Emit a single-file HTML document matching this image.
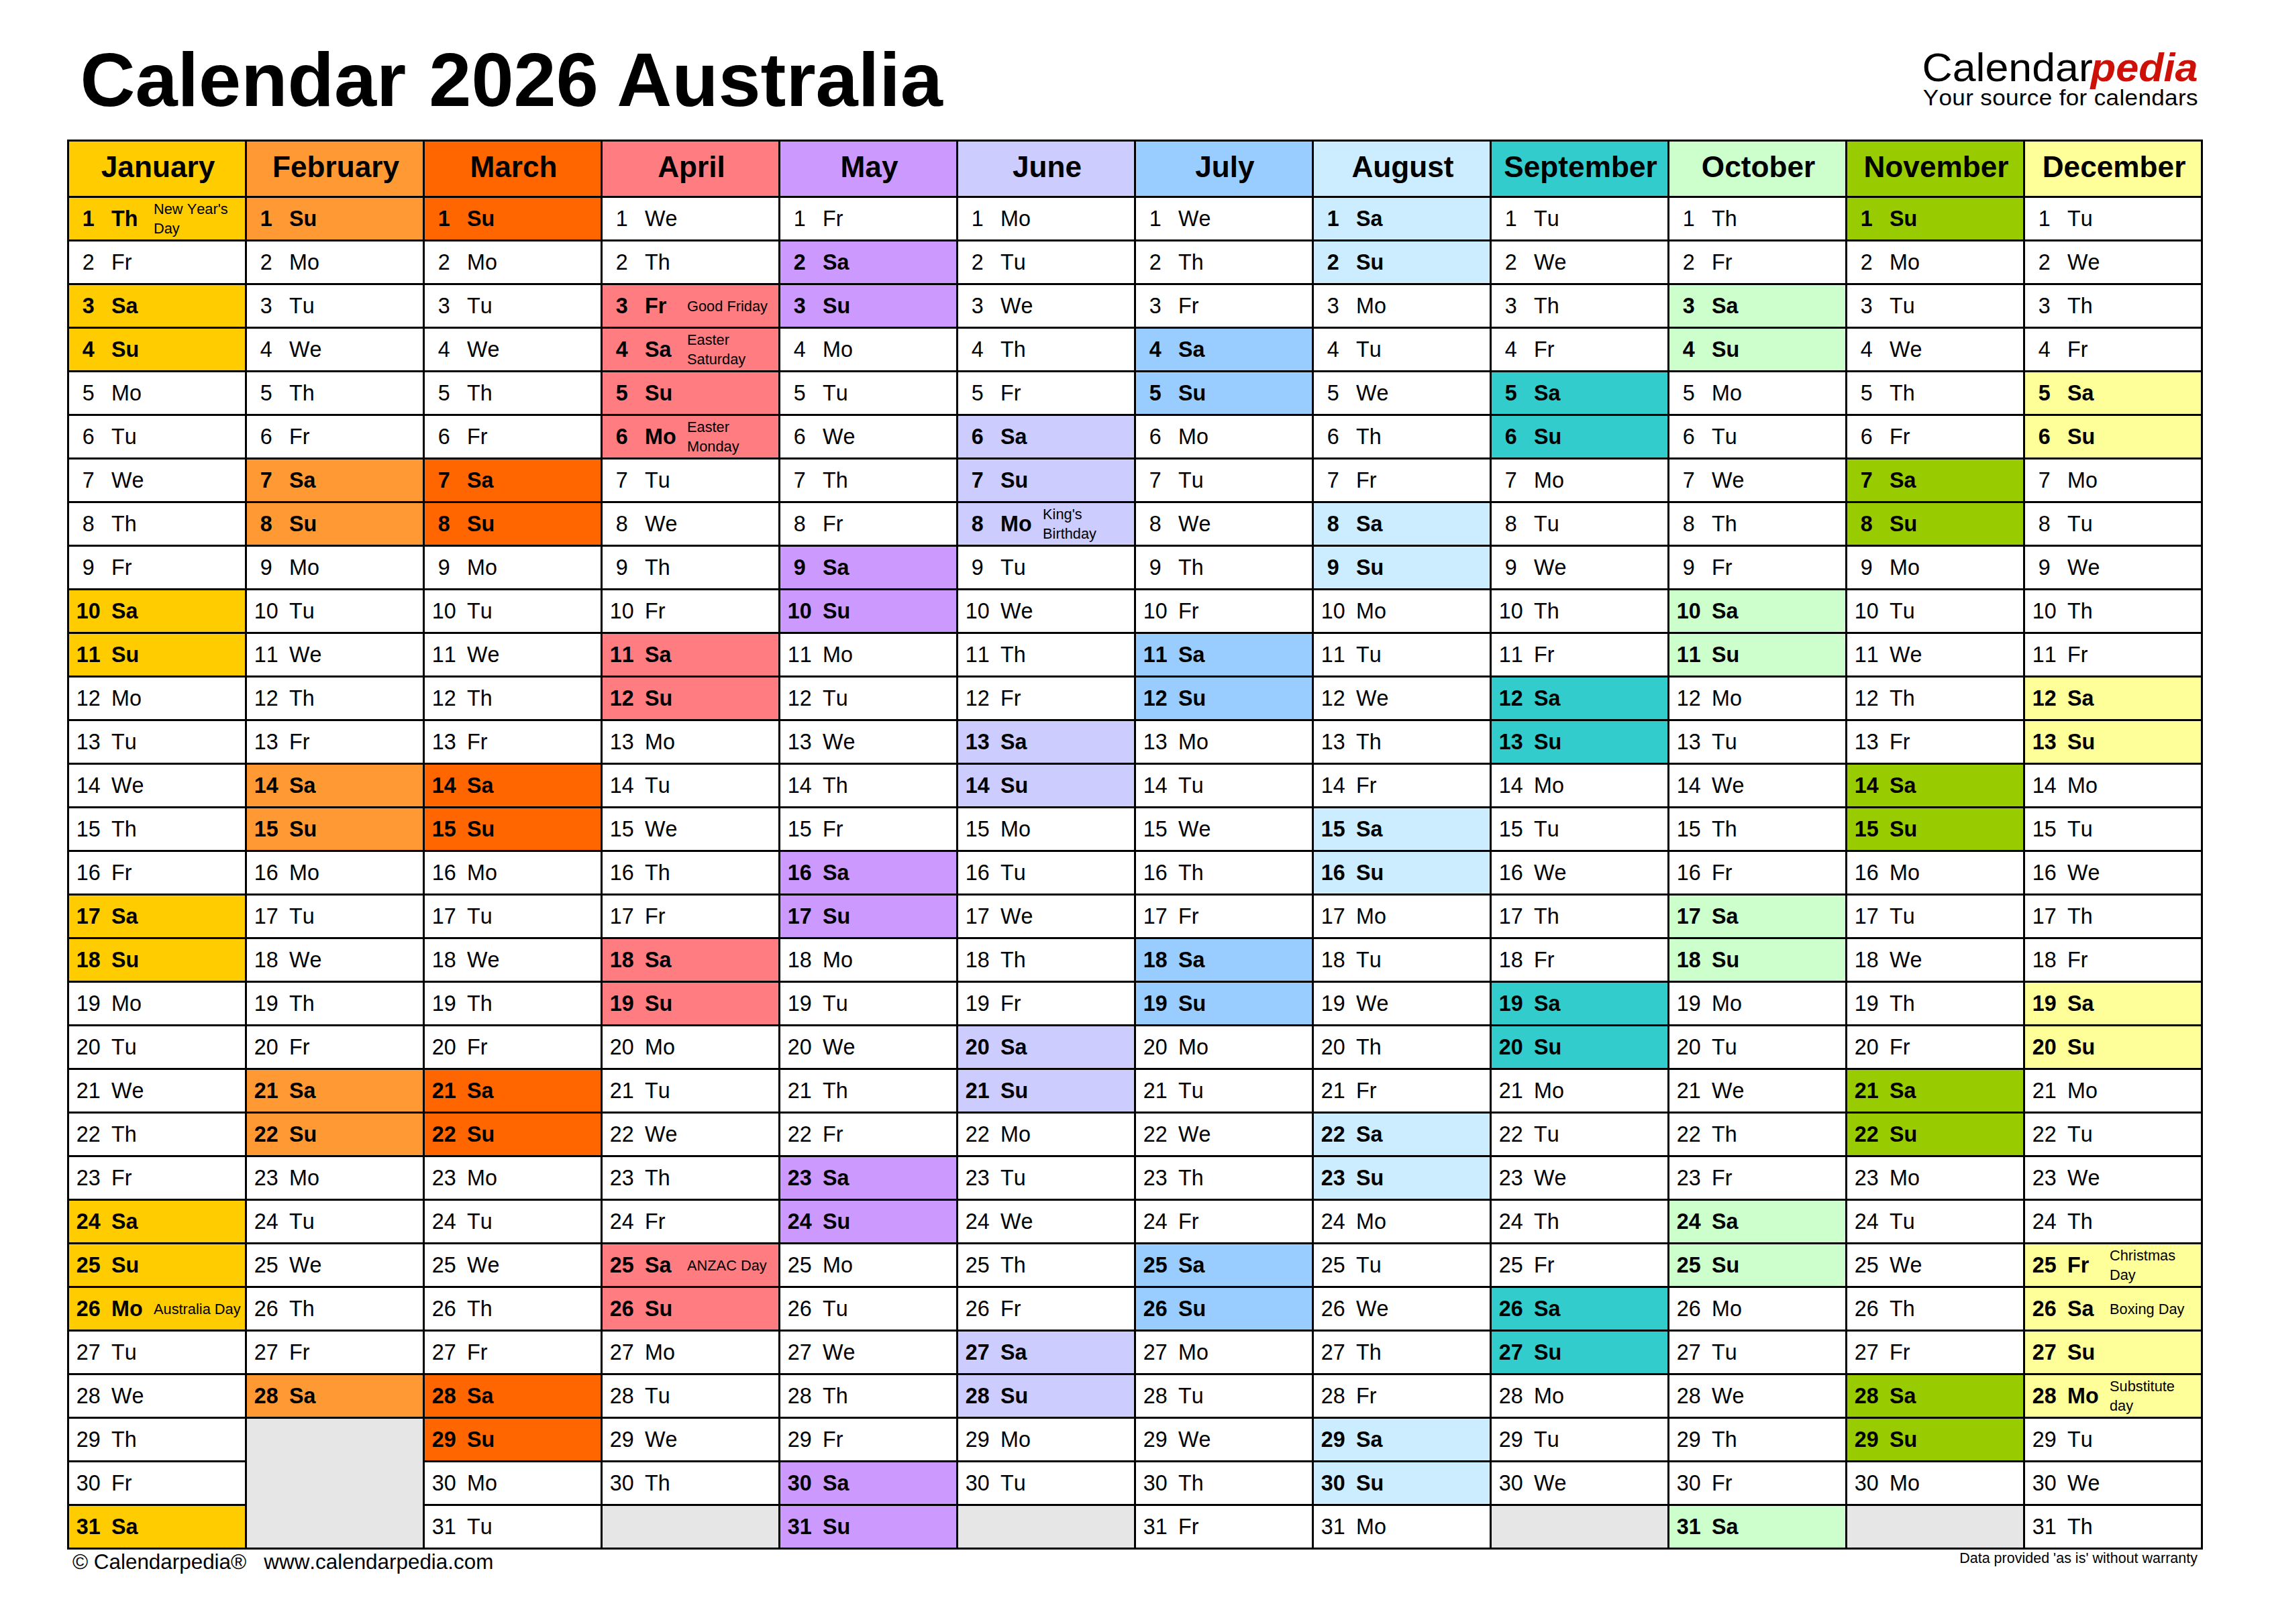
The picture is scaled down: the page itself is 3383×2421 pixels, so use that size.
<!DOCTYPE html>
<html lang="en">
<head>
<meta charset="utf-8">
<title>Calendar 2026 Australia</title>
<style>
html,body{margin:0;padding:0;background:#fff}
body{width:3383px;height:2421px;position:relative;overflow:hidden;font-family:"Liberation Sans",Arial,Helvetica,sans-serif;color:#000;font-kerning:none;-webkit-font-smoothing:antialiased}
div,span{position:absolute;white-space:nowrap;line-height:1;margin:0;padding:0}
b.g{font-weight:inherit}
#grid{left:100px;top:208px;width:3183px;height:2102px;background:#000}
.h{width:262px;height:81px;top:3px;font-weight:bold;font-size:44.2px;text-align:center}
.h span{left:1.5px;width:100%;top:15.785px}
.c{width:262px;height:62px;background:#fff;font-size:32.3px}
.b{font-weight:bold}
.n{left:-11.2px;width:80px;text-align:center;top:14.758px}
.w{left:63px;top:14.758px}
.t{left:126px;font-size:21.8px;font-weight:normal;line-height:28.9px}
.e{background:#E6E6E6}

.m1{background:#FFCC00}
.m2{background:#FF9933}
.m3{background:#FF6600}
.m4{background:#FF7C80}
.m5{background:#CC99FF}
.m6{background:#CCCCFF}
.m7{background:#99CCFF}
.m8{background:#CCECFF}
.m9{background:#33CCCC}
.m10{background:#CCFFCC}
.m11{background:#99CC00}
.m12{background:#FFFF99}
#title{left:119.5px;top:61.822px;font-size:113.5px;font-weight:bold}
#logo,#logo2{top:70.549px;font-size:59.6px;transform-origin:100% 0}
#logo{right:264.6px;transform:scaleX(1.052)}
#logo2{right:107.5px;transform:scaleX(1.027);font-weight:bold;font-style:italic;color:#CD1109}
#tag{right:107.2px;top:129.027px;font-size:33.4px;letter-spacing:0.3px;transform:scaleX(1.052);transform-origin:100% 0}
#fl{left:108px;top:2312.62px;font-size:31.4px;white-space:pre}
#fr{right:108px;top:2313.2px;font-size:21.5px}
</style>
</head>
<body>
<div id="title">Calendar <b class="g" style="margin-left:2.6px">2026</b> <b class="g" style="margin-left:-4.2px">Australia</b></div>
<div id="logo">Calendar</div><div id="logo2">pedia</div>
<div id="tag">Your source for calendars</div>
<div id="grid">
<div class="h m1" style="left:3px"><span>January</span></div>
<div class="c b m1" style="left:3px;top:87px"><span class="n">1</span><span class="w">Th</span><span class="t" style="top:2.696px">New Year's<br>Day</span></div>
<div class="c" style="left:3px;top:152px"><span class="n">2</span><span class="w">Fr</span></div>
<div class="c b m1" style="left:3px;top:217px"><span class="n">3</span><span class="w">Sa</span></div>
<div class="c b m1" style="left:3px;top:282px"><span class="n">4</span><span class="w">Su</span></div>
<div class="c" style="left:3px;top:347px"><span class="n">5</span><span class="w">Mo</span></div>
<div class="c" style="left:3px;top:412px"><span class="n">6</span><span class="w">Tu</span></div>
<div class="c" style="left:3px;top:477px"><span class="n">7</span><span class="w">We</span></div>
<div class="c" style="left:3px;top:542px"><span class="n">8</span><span class="w">Th</span></div>
<div class="c" style="left:3px;top:607px"><span class="n">9</span><span class="w">Fr</span></div>
<div class="c b m1" style="left:3px;top:672px"><span class="n">10</span><span class="w">Sa</span></div>
<div class="c b m1" style="left:3px;top:737px"><span class="n">11</span><span class="w">Su</span></div>
<div class="c" style="left:3px;top:802px"><span class="n">12</span><span class="w">Mo</span></div>
<div class="c" style="left:3px;top:867px"><span class="n">13</span><span class="w">Tu</span></div>
<div class="c" style="left:3px;top:932px"><span class="n">14</span><span class="w">We</span></div>
<div class="c" style="left:3px;top:997px"><span class="n">15</span><span class="w">Th</span></div>
<div class="c" style="left:3px;top:1062px"><span class="n">16</span><span class="w">Fr</span></div>
<div class="c b m1" style="left:3px;top:1127px"><span class="n">17</span><span class="w">Sa</span></div>
<div class="c b m1" style="left:3px;top:1192px"><span class="n">18</span><span class="w">Su</span></div>
<div class="c" style="left:3px;top:1257px"><span class="n">19</span><span class="w">Mo</span></div>
<div class="c" style="left:3px;top:1322px"><span class="n">20</span><span class="w">Tu</span></div>
<div class="c" style="left:3px;top:1387px"><span class="n">21</span><span class="w">We</span></div>
<div class="c" style="left:3px;top:1452px"><span class="n">22</span><span class="w">Th</span></div>
<div class="c" style="left:3px;top:1517px"><span class="n">23</span><span class="w">Fr</span></div>
<div class="c b m1" style="left:3px;top:1582px"><span class="n">24</span><span class="w">Sa</span></div>
<div class="c b m1" style="left:3px;top:1647px"><span class="n">25</span><span class="w">Su</span></div>
<div class="c b m1" style="left:3px;top:1712px"><span class="n">26</span><span class="w">Mo</span><span class="t" style="top:17.696px">Australia Day</span></div>
<div class="c" style="left:3px;top:1777px"><span class="n">27</span><span class="w">Tu</span></div>
<div class="c" style="left:3px;top:1842px"><span class="n">28</span><span class="w">We</span></div>
<div class="c" style="left:3px;top:1907px"><span class="n">29</span><span class="w">Th</span></div>
<div class="c" style="left:3px;top:1972px"><span class="n">30</span><span class="w">Fr</span></div>
<div class="c b m1" style="left:3px;top:2037px"><span class="n">31</span><span class="w">Sa</span></div>
<div class="h m2" style="left:268px"><span>February</span></div>
<div class="c b m2" style="left:268px;top:87px"><span class="n">1</span><span class="w">Su</span></div>
<div class="c" style="left:268px;top:152px"><span class="n">2</span><span class="w">Mo</span></div>
<div class="c" style="left:268px;top:217px"><span class="n">3</span><span class="w">Tu</span></div>
<div class="c" style="left:268px;top:282px"><span class="n">4</span><span class="w">We</span></div>
<div class="c" style="left:268px;top:347px"><span class="n">5</span><span class="w">Th</span></div>
<div class="c" style="left:268px;top:412px"><span class="n">6</span><span class="w">Fr</span></div>
<div class="c b m2" style="left:268px;top:477px"><span class="n">7</span><span class="w">Sa</span></div>
<div class="c b m2" style="left:268px;top:542px"><span class="n">8</span><span class="w">Su</span></div>
<div class="c" style="left:268px;top:607px"><span class="n">9</span><span class="w">Mo</span></div>
<div class="c" style="left:268px;top:672px"><span class="n">10</span><span class="w">Tu</span></div>
<div class="c" style="left:268px;top:737px"><span class="n">11</span><span class="w">We</span></div>
<div class="c" style="left:268px;top:802px"><span class="n">12</span><span class="w">Th</span></div>
<div class="c" style="left:268px;top:867px"><span class="n">13</span><span class="w">Fr</span></div>
<div class="c b m2" style="left:268px;top:932px"><span class="n">14</span><span class="w">Sa</span></div>
<div class="c b m2" style="left:268px;top:997px"><span class="n">15</span><span class="w">Su</span></div>
<div class="c" style="left:268px;top:1062px"><span class="n">16</span><span class="w">Mo</span></div>
<div class="c" style="left:268px;top:1127px"><span class="n">17</span><span class="w">Tu</span></div>
<div class="c" style="left:268px;top:1192px"><span class="n">18</span><span class="w">We</span></div>
<div class="c" style="left:268px;top:1257px"><span class="n">19</span><span class="w">Th</span></div>
<div class="c" style="left:268px;top:1322px"><span class="n">20</span><span class="w">Fr</span></div>
<div class="c b m2" style="left:268px;top:1387px"><span class="n">21</span><span class="w">Sa</span></div>
<div class="c b m2" style="left:268px;top:1452px"><span class="n">22</span><span class="w">Su</span></div>
<div class="c" style="left:268px;top:1517px"><span class="n">23</span><span class="w">Mo</span></div>
<div class="c" style="left:268px;top:1582px"><span class="n">24</span><span class="w">Tu</span></div>
<div class="c" style="left:268px;top:1647px"><span class="n">25</span><span class="w">We</span></div>
<div class="c" style="left:268px;top:1712px"><span class="n">26</span><span class="w">Th</span></div>
<div class="c" style="left:268px;top:1777px"><span class="n">27</span><span class="w">Fr</span></div>
<div class="c b m2" style="left:268px;top:1842px"><span class="n">28</span><span class="w">Sa</span></div>
<div class="c e" style="left:268px;top:1907px;height:192px"></div>
<div class="h m3" style="left:533px"><span>March</span></div>
<div class="c b m3" style="left:533px;top:87px"><span class="n">1</span><span class="w">Su</span></div>
<div class="c" style="left:533px;top:152px"><span class="n">2</span><span class="w">Mo</span></div>
<div class="c" style="left:533px;top:217px"><span class="n">3</span><span class="w">Tu</span></div>
<div class="c" style="left:533px;top:282px"><span class="n">4</span><span class="w">We</span></div>
<div class="c" style="left:533px;top:347px"><span class="n">5</span><span class="w">Th</span></div>
<div class="c" style="left:533px;top:412px"><span class="n">6</span><span class="w">Fr</span></div>
<div class="c b m3" style="left:533px;top:477px"><span class="n">7</span><span class="w">Sa</span></div>
<div class="c b m3" style="left:533px;top:542px"><span class="n">8</span><span class="w">Su</span></div>
<div class="c" style="left:533px;top:607px"><span class="n">9</span><span class="w">Mo</span></div>
<div class="c" style="left:533px;top:672px"><span class="n">10</span><span class="w">Tu</span></div>
<div class="c" style="left:533px;top:737px"><span class="n">11</span><span class="w">We</span></div>
<div class="c" style="left:533px;top:802px"><span class="n">12</span><span class="w">Th</span></div>
<div class="c" style="left:533px;top:867px"><span class="n">13</span><span class="w">Fr</span></div>
<div class="c b m3" style="left:533px;top:932px"><span class="n">14</span><span class="w">Sa</span></div>
<div class="c b m3" style="left:533px;top:997px"><span class="n">15</span><span class="w">Su</span></div>
<div class="c" style="left:533px;top:1062px"><span class="n">16</span><span class="w">Mo</span></div>
<div class="c" style="left:533px;top:1127px"><span class="n">17</span><span class="w">Tu</span></div>
<div class="c" style="left:533px;top:1192px"><span class="n">18</span><span class="w">We</span></div>
<div class="c" style="left:533px;top:1257px"><span class="n">19</span><span class="w">Th</span></div>
<div class="c" style="left:533px;top:1322px"><span class="n">20</span><span class="w">Fr</span></div>
<div class="c b m3" style="left:533px;top:1387px"><span class="n">21</span><span class="w">Sa</span></div>
<div class="c b m3" style="left:533px;top:1452px"><span class="n">22</span><span class="w">Su</span></div>
<div class="c" style="left:533px;top:1517px"><span class="n">23</span><span class="w">Mo</span></div>
<div class="c" style="left:533px;top:1582px"><span class="n">24</span><span class="w">Tu</span></div>
<div class="c" style="left:533px;top:1647px"><span class="n">25</span><span class="w">We</span></div>
<div class="c" style="left:533px;top:1712px"><span class="n">26</span><span class="w">Th</span></div>
<div class="c" style="left:533px;top:1777px"><span class="n">27</span><span class="w">Fr</span></div>
<div class="c b m3" style="left:533px;top:1842px"><span class="n">28</span><span class="w">Sa</span></div>
<div class="c b m3" style="left:533px;top:1907px"><span class="n">29</span><span class="w">Su</span></div>
<div class="c" style="left:533px;top:1972px"><span class="n">30</span><span class="w">Mo</span></div>
<div class="c" style="left:533px;top:2037px"><span class="n">31</span><span class="w">Tu</span></div>
<div class="h m4" style="left:798px"><span>April</span></div>
<div class="c" style="left:798px;top:87px"><span class="n">1</span><span class="w">We</span></div>
<div class="c" style="left:798px;top:152px"><span class="n">2</span><span class="w">Th</span></div>
<div class="c b m4" style="left:798px;top:217px"><span class="n">3</span><span class="w">Fr</span><span class="t" style="top:17.696px">Good Friday</span></div>
<div class="c b m4" style="left:798px;top:282px"><span class="n">4</span><span class="w">Sa</span><span class="t" style="top:2.696px">Easter<br>Saturday</span></div>
<div class="c b m4" style="left:798px;top:347px"><span class="n">5</span><span class="w">Su</span></div>
<div class="c b m4" style="left:798px;top:412px"><span class="n">6</span><span class="w">Mo</span><span class="t" style="top:2.696px">Easter<br>Monday</span></div>
<div class="c" style="left:798px;top:477px"><span class="n">7</span><span class="w">Tu</span></div>
<div class="c" style="left:798px;top:542px"><span class="n">8</span><span class="w">We</span></div>
<div class="c" style="left:798px;top:607px"><span class="n">9</span><span class="w">Th</span></div>
<div class="c" style="left:798px;top:672px"><span class="n">10</span><span class="w">Fr</span></div>
<div class="c b m4" style="left:798px;top:737px"><span class="n">11</span><span class="w">Sa</span></div>
<div class="c b m4" style="left:798px;top:802px"><span class="n">12</span><span class="w">Su</span></div>
<div class="c" style="left:798px;top:867px"><span class="n">13</span><span class="w">Mo</span></div>
<div class="c" style="left:798px;top:932px"><span class="n">14</span><span class="w">Tu</span></div>
<div class="c" style="left:798px;top:997px"><span class="n">15</span><span class="w">We</span></div>
<div class="c" style="left:798px;top:1062px"><span class="n">16</span><span class="w">Th</span></div>
<div class="c" style="left:798px;top:1127px"><span class="n">17</span><span class="w">Fr</span></div>
<div class="c b m4" style="left:798px;top:1192px"><span class="n">18</span><span class="w">Sa</span></div>
<div class="c b m4" style="left:798px;top:1257px"><span class="n">19</span><span class="w">Su</span></div>
<div class="c" style="left:798px;top:1322px"><span class="n">20</span><span class="w">Mo</span></div>
<div class="c" style="left:798px;top:1387px"><span class="n">21</span><span class="w">Tu</span></div>
<div class="c" style="left:798px;top:1452px"><span class="n">22</span><span class="w">We</span></div>
<div class="c" style="left:798px;top:1517px"><span class="n">23</span><span class="w">Th</span></div>
<div class="c" style="left:798px;top:1582px"><span class="n">24</span><span class="w">Fr</span></div>
<div class="c b m4" style="left:798px;top:1647px"><span class="n">25</span><span class="w">Sa</span><span class="t" style="top:17.696px">ANZAC Day</span></div>
<div class="c b m4" style="left:798px;top:1712px"><span class="n">26</span><span class="w">Su</span></div>
<div class="c" style="left:798px;top:1777px"><span class="n">27</span><span class="w">Mo</span></div>
<div class="c" style="left:798px;top:1842px"><span class="n">28</span><span class="w">Tu</span></div>
<div class="c" style="left:798px;top:1907px"><span class="n">29</span><span class="w">We</span></div>
<div class="c" style="left:798px;top:1972px"><span class="n">30</span><span class="w">Th</span></div>
<div class="c e" style="left:798px;top:2037px;height:62px"></div>
<div class="h m5" style="left:1063px"><span>May</span></div>
<div class="c" style="left:1063px;top:87px"><span class="n">1</span><span class="w">Fr</span></div>
<div class="c b m5" style="left:1063px;top:152px"><span class="n">2</span><span class="w">Sa</span></div>
<div class="c b m5" style="left:1063px;top:217px"><span class="n">3</span><span class="w">Su</span></div>
<div class="c" style="left:1063px;top:282px"><span class="n">4</span><span class="w">Mo</span></div>
<div class="c" style="left:1063px;top:347px"><span class="n">5</span><span class="w">Tu</span></div>
<div class="c" style="left:1063px;top:412px"><span class="n">6</span><span class="w">We</span></div>
<div class="c" style="left:1063px;top:477px"><span class="n">7</span><span class="w">Th</span></div>
<div class="c" style="left:1063px;top:542px"><span class="n">8</span><span class="w">Fr</span></div>
<div class="c b m5" style="left:1063px;top:607px"><span class="n">9</span><span class="w">Sa</span></div>
<div class="c b m5" style="left:1063px;top:672px"><span class="n">10</span><span class="w">Su</span></div>
<div class="c" style="left:1063px;top:737px"><span class="n">11</span><span class="w">Mo</span></div>
<div class="c" style="left:1063px;top:802px"><span class="n">12</span><span class="w">Tu</span></div>
<div class="c" style="left:1063px;top:867px"><span class="n">13</span><span class="w">We</span></div>
<div class="c" style="left:1063px;top:932px"><span class="n">14</span><span class="w">Th</span></div>
<div class="c" style="left:1063px;top:997px"><span class="n">15</span><span class="w">Fr</span></div>
<div class="c b m5" style="left:1063px;top:1062px"><span class="n">16</span><span class="w">Sa</span></div>
<div class="c b m5" style="left:1063px;top:1127px"><span class="n">17</span><span class="w">Su</span></div>
<div class="c" style="left:1063px;top:1192px"><span class="n">18</span><span class="w">Mo</span></div>
<div class="c" style="left:1063px;top:1257px"><span class="n">19</span><span class="w">Tu</span></div>
<div class="c" style="left:1063px;top:1322px"><span class="n">20</span><span class="w">We</span></div>
<div class="c" style="left:1063px;top:1387px"><span class="n">21</span><span class="w">Th</span></div>
<div class="c" style="left:1063px;top:1452px"><span class="n">22</span><span class="w">Fr</span></div>
<div class="c b m5" style="left:1063px;top:1517px"><span class="n">23</span><span class="w">Sa</span></div>
<div class="c b m5" style="left:1063px;top:1582px"><span class="n">24</span><span class="w">Su</span></div>
<div class="c" style="left:1063px;top:1647px"><span class="n">25</span><span class="w">Mo</span></div>
<div class="c" style="left:1063px;top:1712px"><span class="n">26</span><span class="w">Tu</span></div>
<div class="c" style="left:1063px;top:1777px"><span class="n">27</span><span class="w">We</span></div>
<div class="c" style="left:1063px;top:1842px"><span class="n">28</span><span class="w">Th</span></div>
<div class="c" style="left:1063px;top:1907px"><span class="n">29</span><span class="w">Fr</span></div>
<div class="c b m5" style="left:1063px;top:1972px"><span class="n">30</span><span class="w">Sa</span></div>
<div class="c b m5" style="left:1063px;top:2037px"><span class="n">31</span><span class="w">Su</span></div>
<div class="h m6" style="left:1328px"><span>June</span></div>
<div class="c" style="left:1328px;top:87px"><span class="n">1</span><span class="w">Mo</span></div>
<div class="c" style="left:1328px;top:152px"><span class="n">2</span><span class="w">Tu</span></div>
<div class="c" style="left:1328px;top:217px"><span class="n">3</span><span class="w">We</span></div>
<div class="c" style="left:1328px;top:282px"><span class="n">4</span><span class="w">Th</span></div>
<div class="c" style="left:1328px;top:347px"><span class="n">5</span><span class="w">Fr</span></div>
<div class="c b m6" style="left:1328px;top:412px"><span class="n">6</span><span class="w">Sa</span></div>
<div class="c b m6" style="left:1328px;top:477px"><span class="n">7</span><span class="w">Su</span></div>
<div class="c b m6" style="left:1328px;top:542px"><span class="n">8</span><span class="w">Mo</span><span class="t" style="top:2.696px">King's<br>Birthday</span></div>
<div class="c" style="left:1328px;top:607px"><span class="n">9</span><span class="w">Tu</span></div>
<div class="c" style="left:1328px;top:672px"><span class="n">10</span><span class="w">We</span></div>
<div class="c" style="left:1328px;top:737px"><span class="n">11</span><span class="w">Th</span></div>
<div class="c" style="left:1328px;top:802px"><span class="n">12</span><span class="w">Fr</span></div>
<div class="c b m6" style="left:1328px;top:867px"><span class="n">13</span><span class="w">Sa</span></div>
<div class="c b m6" style="left:1328px;top:932px"><span class="n">14</span><span class="w">Su</span></div>
<div class="c" style="left:1328px;top:997px"><span class="n">15</span><span class="w">Mo</span></div>
<div class="c" style="left:1328px;top:1062px"><span class="n">16</span><span class="w">Tu</span></div>
<div class="c" style="left:1328px;top:1127px"><span class="n">17</span><span class="w">We</span></div>
<div class="c" style="left:1328px;top:1192px"><span class="n">18</span><span class="w">Th</span></div>
<div class="c" style="left:1328px;top:1257px"><span class="n">19</span><span class="w">Fr</span></div>
<div class="c b m6" style="left:1328px;top:1322px"><span class="n">20</span><span class="w">Sa</span></div>
<div class="c b m6" style="left:1328px;top:1387px"><span class="n">21</span><span class="w">Su</span></div>
<div class="c" style="left:1328px;top:1452px"><span class="n">22</span><span class="w">Mo</span></div>
<div class="c" style="left:1328px;top:1517px"><span class="n">23</span><span class="w">Tu</span></div>
<div class="c" style="left:1328px;top:1582px"><span class="n">24</span><span class="w">We</span></div>
<div class="c" style="left:1328px;top:1647px"><span class="n">25</span><span class="w">Th</span></div>
<div class="c" style="left:1328px;top:1712px"><span class="n">26</span><span class="w">Fr</span></div>
<div class="c b m6" style="left:1328px;top:1777px"><span class="n">27</span><span class="w">Sa</span></div>
<div class="c b m6" style="left:1328px;top:1842px"><span class="n">28</span><span class="w">Su</span></div>
<div class="c" style="left:1328px;top:1907px"><span class="n">29</span><span class="w">Mo</span></div>
<div class="c" style="left:1328px;top:1972px"><span class="n">30</span><span class="w">Tu</span></div>
<div class="c e" style="left:1328px;top:2037px;height:62px"></div>
<div class="h m7" style="left:1593px"><span>July</span></div>
<div class="c" style="left:1593px;top:87px"><span class="n">1</span><span class="w">We</span></div>
<div class="c" style="left:1593px;top:152px"><span class="n">2</span><span class="w">Th</span></div>
<div class="c" style="left:1593px;top:217px"><span class="n">3</span><span class="w">Fr</span></div>
<div class="c b m7" style="left:1593px;top:282px"><span class="n">4</span><span class="w">Sa</span></div>
<div class="c b m7" style="left:1593px;top:347px"><span class="n">5</span><span class="w">Su</span></div>
<div class="c" style="left:1593px;top:412px"><span class="n">6</span><span class="w">Mo</span></div>
<div class="c" style="left:1593px;top:477px"><span class="n">7</span><span class="w">Tu</span></div>
<div class="c" style="left:1593px;top:542px"><span class="n">8</span><span class="w">We</span></div>
<div class="c" style="left:1593px;top:607px"><span class="n">9</span><span class="w">Th</span></div>
<div class="c" style="left:1593px;top:672px"><span class="n">10</span><span class="w">Fr</span></div>
<div class="c b m7" style="left:1593px;top:737px"><span class="n">11</span><span class="w">Sa</span></div>
<div class="c b m7" style="left:1593px;top:802px"><span class="n">12</span><span class="w">Su</span></div>
<div class="c" style="left:1593px;top:867px"><span class="n">13</span><span class="w">Mo</span></div>
<div class="c" style="left:1593px;top:932px"><span class="n">14</span><span class="w">Tu</span></div>
<div class="c" style="left:1593px;top:997px"><span class="n">15</span><span class="w">We</span></div>
<div class="c" style="left:1593px;top:1062px"><span class="n">16</span><span class="w">Th</span></div>
<div class="c" style="left:1593px;top:1127px"><span class="n">17</span><span class="w">Fr</span></div>
<div class="c b m7" style="left:1593px;top:1192px"><span class="n">18</span><span class="w">Sa</span></div>
<div class="c b m7" style="left:1593px;top:1257px"><span class="n">19</span><span class="w">Su</span></div>
<div class="c" style="left:1593px;top:1322px"><span class="n">20</span><span class="w">Mo</span></div>
<div class="c" style="left:1593px;top:1387px"><span class="n">21</span><span class="w">Tu</span></div>
<div class="c" style="left:1593px;top:1452px"><span class="n">22</span><span class="w">We</span></div>
<div class="c" style="left:1593px;top:1517px"><span class="n">23</span><span class="w">Th</span></div>
<div class="c" style="left:1593px;top:1582px"><span class="n">24</span><span class="w">Fr</span></div>
<div class="c b m7" style="left:1593px;top:1647px"><span class="n">25</span><span class="w">Sa</span></div>
<div class="c b m7" style="left:1593px;top:1712px"><span class="n">26</span><span class="w">Su</span></div>
<div class="c" style="left:1593px;top:1777px"><span class="n">27</span><span class="w">Mo</span></div>
<div class="c" style="left:1593px;top:1842px"><span class="n">28</span><span class="w">Tu</span></div>
<div class="c" style="left:1593px;top:1907px"><span class="n">29</span><span class="w">We</span></div>
<div class="c" style="left:1593px;top:1972px"><span class="n">30</span><span class="w">Th</span></div>
<div class="c" style="left:1593px;top:2037px"><span class="n">31</span><span class="w">Fr</span></div>
<div class="h m8" style="left:1858px"><span>August</span></div>
<div class="c b m8" style="left:1858px;top:87px"><span class="n">1</span><span class="w">Sa</span></div>
<div class="c b m8" style="left:1858px;top:152px"><span class="n">2</span><span class="w">Su</span></div>
<div class="c" style="left:1858px;top:217px"><span class="n">3</span><span class="w">Mo</span></div>
<div class="c" style="left:1858px;top:282px"><span class="n">4</span><span class="w">Tu</span></div>
<div class="c" style="left:1858px;top:347px"><span class="n">5</span><span class="w">We</span></div>
<div class="c" style="left:1858px;top:412px"><span class="n">6</span><span class="w">Th</span></div>
<div class="c" style="left:1858px;top:477px"><span class="n">7</span><span class="w">Fr</span></div>
<div class="c b m8" style="left:1858px;top:542px"><span class="n">8</span><span class="w">Sa</span></div>
<div class="c b m8" style="left:1858px;top:607px"><span class="n">9</span><span class="w">Su</span></div>
<div class="c" style="left:1858px;top:672px"><span class="n">10</span><span class="w">Mo</span></div>
<div class="c" style="left:1858px;top:737px"><span class="n">11</span><span class="w">Tu</span></div>
<div class="c" style="left:1858px;top:802px"><span class="n">12</span><span class="w">We</span></div>
<div class="c" style="left:1858px;top:867px"><span class="n">13</span><span class="w">Th</span></div>
<div class="c" style="left:1858px;top:932px"><span class="n">14</span><span class="w">Fr</span></div>
<div class="c b m8" style="left:1858px;top:997px"><span class="n">15</span><span class="w">Sa</span></div>
<div class="c b m8" style="left:1858px;top:1062px"><span class="n">16</span><span class="w">Su</span></div>
<div class="c" style="left:1858px;top:1127px"><span class="n">17</span><span class="w">Mo</span></div>
<div class="c" style="left:1858px;top:1192px"><span class="n">18</span><span class="w">Tu</span></div>
<div class="c" style="left:1858px;top:1257px"><span class="n">19</span><span class="w">We</span></div>
<div class="c" style="left:1858px;top:1322px"><span class="n">20</span><span class="w">Th</span></div>
<div class="c" style="left:1858px;top:1387px"><span class="n">21</span><span class="w">Fr</span></div>
<div class="c b m8" style="left:1858px;top:1452px"><span class="n">22</span><span class="w">Sa</span></div>
<div class="c b m8" style="left:1858px;top:1517px"><span class="n">23</span><span class="w">Su</span></div>
<div class="c" style="left:1858px;top:1582px"><span class="n">24</span><span class="w">Mo</span></div>
<div class="c" style="left:1858px;top:1647px"><span class="n">25</span><span class="w">Tu</span></div>
<div class="c" style="left:1858px;top:1712px"><span class="n">26</span><span class="w">We</span></div>
<div class="c" style="left:1858px;top:1777px"><span class="n">27</span><span class="w">Th</span></div>
<div class="c" style="left:1858px;top:1842px"><span class="n">28</span><span class="w">Fr</span></div>
<div class="c b m8" style="left:1858px;top:1907px"><span class="n">29</span><span class="w">Sa</span></div>
<div class="c b m8" style="left:1858px;top:1972px"><span class="n">30</span><span class="w">Su</span></div>
<div class="c" style="left:1858px;top:2037px"><span class="n">31</span><span class="w">Mo</span></div>
<div class="h m9" style="left:2123px"><span>September</span></div>
<div class="c" style="left:2123px;top:87px"><span class="n">1</span><span class="w">Tu</span></div>
<div class="c" style="left:2123px;top:152px"><span class="n">2</span><span class="w">We</span></div>
<div class="c" style="left:2123px;top:217px"><span class="n">3</span><span class="w">Th</span></div>
<div class="c" style="left:2123px;top:282px"><span class="n">4</span><span class="w">Fr</span></div>
<div class="c b m9" style="left:2123px;top:347px"><span class="n">5</span><span class="w">Sa</span></div>
<div class="c b m9" style="left:2123px;top:412px"><span class="n">6</span><span class="w">Su</span></div>
<div class="c" style="left:2123px;top:477px"><span class="n">7</span><span class="w">Mo</span></div>
<div class="c" style="left:2123px;top:542px"><span class="n">8</span><span class="w">Tu</span></div>
<div class="c" style="left:2123px;top:607px"><span class="n">9</span><span class="w">We</span></div>
<div class="c" style="left:2123px;top:672px"><span class="n">10</span><span class="w">Th</span></div>
<div class="c" style="left:2123px;top:737px"><span class="n">11</span><span class="w">Fr</span></div>
<div class="c b m9" style="left:2123px;top:802px"><span class="n">12</span><span class="w">Sa</span></div>
<div class="c b m9" style="left:2123px;top:867px"><span class="n">13</span><span class="w">Su</span></div>
<div class="c" style="left:2123px;top:932px"><span class="n">14</span><span class="w">Mo</span></div>
<div class="c" style="left:2123px;top:997px"><span class="n">15</span><span class="w">Tu</span></div>
<div class="c" style="left:2123px;top:1062px"><span class="n">16</span><span class="w">We</span></div>
<div class="c" style="left:2123px;top:1127px"><span class="n">17</span><span class="w">Th</span></div>
<div class="c" style="left:2123px;top:1192px"><span class="n">18</span><span class="w">Fr</span></div>
<div class="c b m9" style="left:2123px;top:1257px"><span class="n">19</span><span class="w">Sa</span></div>
<div class="c b m9" style="left:2123px;top:1322px"><span class="n">20</span><span class="w">Su</span></div>
<div class="c" style="left:2123px;top:1387px"><span class="n">21</span><span class="w">Mo</span></div>
<div class="c" style="left:2123px;top:1452px"><span class="n">22</span><span class="w">Tu</span></div>
<div class="c" style="left:2123px;top:1517px"><span class="n">23</span><span class="w">We</span></div>
<div class="c" style="left:2123px;top:1582px"><span class="n">24</span><span class="w">Th</span></div>
<div class="c" style="left:2123px;top:1647px"><span class="n">25</span><span class="w">Fr</span></div>
<div class="c b m9" style="left:2123px;top:1712px"><span class="n">26</span><span class="w">Sa</span></div>
<div class="c b m9" style="left:2123px;top:1777px"><span class="n">27</span><span class="w">Su</span></div>
<div class="c" style="left:2123px;top:1842px"><span class="n">28</span><span class="w">Mo</span></div>
<div class="c" style="left:2123px;top:1907px"><span class="n">29</span><span class="w">Tu</span></div>
<div class="c" style="left:2123px;top:1972px"><span class="n">30</span><span class="w">We</span></div>
<div class="c e" style="left:2123px;top:2037px;height:62px"></div>
<div class="h m10" style="left:2388px"><span>October</span></div>
<div class="c" style="left:2388px;top:87px"><span class="n">1</span><span class="w">Th</span></div>
<div class="c" style="left:2388px;top:152px"><span class="n">2</span><span class="w">Fr</span></div>
<div class="c b m10" style="left:2388px;top:217px"><span class="n">3</span><span class="w">Sa</span></div>
<div class="c b m10" style="left:2388px;top:282px"><span class="n">4</span><span class="w">Su</span></div>
<div class="c" style="left:2388px;top:347px"><span class="n">5</span><span class="w">Mo</span></div>
<div class="c" style="left:2388px;top:412px"><span class="n">6</span><span class="w">Tu</span></div>
<div class="c" style="left:2388px;top:477px"><span class="n">7</span><span class="w">We</span></div>
<div class="c" style="left:2388px;top:542px"><span class="n">8</span><span class="w">Th</span></div>
<div class="c" style="left:2388px;top:607px"><span class="n">9</span><span class="w">Fr</span></div>
<div class="c b m10" style="left:2388px;top:672px"><span class="n">10</span><span class="w">Sa</span></div>
<div class="c b m10" style="left:2388px;top:737px"><span class="n">11</span><span class="w">Su</span></div>
<div class="c" style="left:2388px;top:802px"><span class="n">12</span><span class="w">Mo</span></div>
<div class="c" style="left:2388px;top:867px"><span class="n">13</span><span class="w">Tu</span></div>
<div class="c" style="left:2388px;top:932px"><span class="n">14</span><span class="w">We</span></div>
<div class="c" style="left:2388px;top:997px"><span class="n">15</span><span class="w">Th</span></div>
<div class="c" style="left:2388px;top:1062px"><span class="n">16</span><span class="w">Fr</span></div>
<div class="c b m10" style="left:2388px;top:1127px"><span class="n">17</span><span class="w">Sa</span></div>
<div class="c b m10" style="left:2388px;top:1192px"><span class="n">18</span><span class="w">Su</span></div>
<div class="c" style="left:2388px;top:1257px"><span class="n">19</span><span class="w">Mo</span></div>
<div class="c" style="left:2388px;top:1322px"><span class="n">20</span><span class="w">Tu</span></div>
<div class="c" style="left:2388px;top:1387px"><span class="n">21</span><span class="w">We</span></div>
<div class="c" style="left:2388px;top:1452px"><span class="n">22</span><span class="w">Th</span></div>
<div class="c" style="left:2388px;top:1517px"><span class="n">23</span><span class="w">Fr</span></div>
<div class="c b m10" style="left:2388px;top:1582px"><span class="n">24</span><span class="w">Sa</span></div>
<div class="c b m10" style="left:2388px;top:1647px"><span class="n">25</span><span class="w">Su</span></div>
<div class="c" style="left:2388px;top:1712px"><span class="n">26</span><span class="w">Mo</span></div>
<div class="c" style="left:2388px;top:1777px"><span class="n">27</span><span class="w">Tu</span></div>
<div class="c" style="left:2388px;top:1842px"><span class="n">28</span><span class="w">We</span></div>
<div class="c" style="left:2388px;top:1907px"><span class="n">29</span><span class="w">Th</span></div>
<div class="c" style="left:2388px;top:1972px"><span class="n">30</span><span class="w">Fr</span></div>
<div class="c b m10" style="left:2388px;top:2037px"><span class="n">31</span><span class="w">Sa</span></div>
<div class="h m11" style="left:2653px"><span>November</span></div>
<div class="c b m11" style="left:2653px;top:87px"><span class="n">1</span><span class="w">Su</span></div>
<div class="c" style="left:2653px;top:152px"><span class="n">2</span><span class="w">Mo</span></div>
<div class="c" style="left:2653px;top:217px"><span class="n">3</span><span class="w">Tu</span></div>
<div class="c" style="left:2653px;top:282px"><span class="n">4</span><span class="w">We</span></div>
<div class="c" style="left:2653px;top:347px"><span class="n">5</span><span class="w">Th</span></div>
<div class="c" style="left:2653px;top:412px"><span class="n">6</span><span class="w">Fr</span></div>
<div class="c b m11" style="left:2653px;top:477px"><span class="n">7</span><span class="w">Sa</span></div>
<div class="c b m11" style="left:2653px;top:542px"><span class="n">8</span><span class="w">Su</span></div>
<div class="c" style="left:2653px;top:607px"><span class="n">9</span><span class="w">Mo</span></div>
<div class="c" style="left:2653px;top:672px"><span class="n">10</span><span class="w">Tu</span></div>
<div class="c" style="left:2653px;top:737px"><span class="n">11</span><span class="w">We</span></div>
<div class="c" style="left:2653px;top:802px"><span class="n">12</span><span class="w">Th</span></div>
<div class="c" style="left:2653px;top:867px"><span class="n">13</span><span class="w">Fr</span></div>
<div class="c b m11" style="left:2653px;top:932px"><span class="n">14</span><span class="w">Sa</span></div>
<div class="c b m11" style="left:2653px;top:997px"><span class="n">15</span><span class="w">Su</span></div>
<div class="c" style="left:2653px;top:1062px"><span class="n">16</span><span class="w">Mo</span></div>
<div class="c" style="left:2653px;top:1127px"><span class="n">17</span><span class="w">Tu</span></div>
<div class="c" style="left:2653px;top:1192px"><span class="n">18</span><span class="w">We</span></div>
<div class="c" style="left:2653px;top:1257px"><span class="n">19</span><span class="w">Th</span></div>
<div class="c" style="left:2653px;top:1322px"><span class="n">20</span><span class="w">Fr</span></div>
<div class="c b m11" style="left:2653px;top:1387px"><span class="n">21</span><span class="w">Sa</span></div>
<div class="c b m11" style="left:2653px;top:1452px"><span class="n">22</span><span class="w">Su</span></div>
<div class="c" style="left:2653px;top:1517px"><span class="n">23</span><span class="w">Mo</span></div>
<div class="c" style="left:2653px;top:1582px"><span class="n">24</span><span class="w">Tu</span></div>
<div class="c" style="left:2653px;top:1647px"><span class="n">25</span><span class="w">We</span></div>
<div class="c" style="left:2653px;top:1712px"><span class="n">26</span><span class="w">Th</span></div>
<div class="c" style="left:2653px;top:1777px"><span class="n">27</span><span class="w">Fr</span></div>
<div class="c b m11" style="left:2653px;top:1842px"><span class="n">28</span><span class="w">Sa</span></div>
<div class="c b m11" style="left:2653px;top:1907px"><span class="n">29</span><span class="w">Su</span></div>
<div class="c" style="left:2653px;top:1972px"><span class="n">30</span><span class="w">Mo</span></div>
<div class="c e" style="left:2653px;top:2037px;height:62px"></div>
<div class="h m12" style="left:2918px"><span>December</span></div>
<div class="c" style="left:2918px;top:87px"><span class="n">1</span><span class="w">Tu</span></div>
<div class="c" style="left:2918px;top:152px"><span class="n">2</span><span class="w">We</span></div>
<div class="c" style="left:2918px;top:217px"><span class="n">3</span><span class="w">Th</span></div>
<div class="c" style="left:2918px;top:282px"><span class="n">4</span><span class="w">Fr</span></div>
<div class="c b m12" style="left:2918px;top:347px"><span class="n">5</span><span class="w">Sa</span></div>
<div class="c b m12" style="left:2918px;top:412px"><span class="n">6</span><span class="w">Su</span></div>
<div class="c" style="left:2918px;top:477px"><span class="n">7</span><span class="w">Mo</span></div>
<div class="c" style="left:2918px;top:542px"><span class="n">8</span><span class="w">Tu</span></div>
<div class="c" style="left:2918px;top:607px"><span class="n">9</span><span class="w">We</span></div>
<div class="c" style="left:2918px;top:672px"><span class="n">10</span><span class="w">Th</span></div>
<div class="c" style="left:2918px;top:737px"><span class="n">11</span><span class="w">Fr</span></div>
<div class="c b m12" style="left:2918px;top:802px"><span class="n">12</span><span class="w">Sa</span></div>
<div class="c b m12" style="left:2918px;top:867px"><span class="n">13</span><span class="w">Su</span></div>
<div class="c" style="left:2918px;top:932px"><span class="n">14</span><span class="w">Mo</span></div>
<div class="c" style="left:2918px;top:997px"><span class="n">15</span><span class="w">Tu</span></div>
<div class="c" style="left:2918px;top:1062px"><span class="n">16</span><span class="w">We</span></div>
<div class="c" style="left:2918px;top:1127px"><span class="n">17</span><span class="w">Th</span></div>
<div class="c" style="left:2918px;top:1192px"><span class="n">18</span><span class="w">Fr</span></div>
<div class="c b m12" style="left:2918px;top:1257px"><span class="n">19</span><span class="w">Sa</span></div>
<div class="c b m12" style="left:2918px;top:1322px"><span class="n">20</span><span class="w">Su</span></div>
<div class="c" style="left:2918px;top:1387px"><span class="n">21</span><span class="w">Mo</span></div>
<div class="c" style="left:2918px;top:1452px"><span class="n">22</span><span class="w">Tu</span></div>
<div class="c" style="left:2918px;top:1517px"><span class="n">23</span><span class="w">We</span></div>
<div class="c" style="left:2918px;top:1582px"><span class="n">24</span><span class="w">Th</span></div>
<div class="c b m12" style="left:2918px;top:1647px"><span class="n">25</span><span class="w">Fr</span><span class="t" style="top:2.696px">Christmas<br>Day</span></div>
<div class="c b m12" style="left:2918px;top:1712px"><span class="n">26</span><span class="w">Sa</span><span class="t" style="top:17.696px">Boxing Day</span></div>
<div class="c b m12" style="left:2918px;top:1777px"><span class="n">27</span><span class="w">Su</span></div>
<div class="c b m12" style="left:2918px;top:1842px"><span class="n">28</span><span class="w">Mo</span><span class="t" style="top:2.696px">Substitute<br>day</span></div>
<div class="c" style="left:2918px;top:1907px"><span class="n">29</span><span class="w">Tu</span></div>
<div class="c" style="left:2918px;top:1972px"><span class="n">30</span><span class="w">We</span></div>
<div class="c" style="left:2918px;top:2037px"><span class="n">31</span><span class="w">Th</span></div>
</div>
<div id="fl">© Calendarpedia®   www.calendarpedia.com</div>
<div id="fr">Data provided 'as is' without warranty</div>
</body>
</html>
